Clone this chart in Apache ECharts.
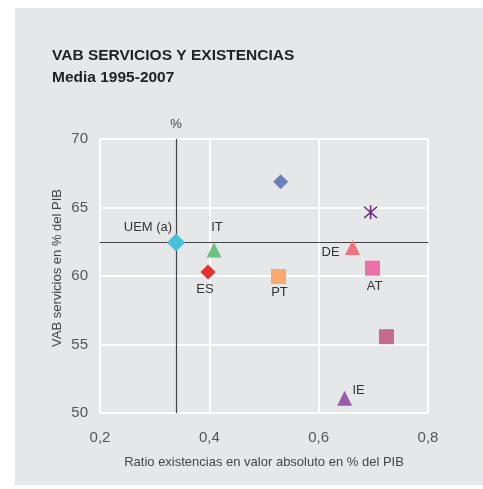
<!DOCTYPE html>
<html lang="es">
<head>
    <meta charset="UTF-8">
    <title>VAB servicios y existencias</title>
    <script src="https://cdn.jsdelivr.net/npm/echarts@6/dist/echarts.min.js"></script>
    <style>
        html, body { margin: 0; padding: 0; background: #fff; }
    </style>
</head>
<body>
<div id="chart" style="width:483px;height:489px"></div>
<script type="text/javascript">
    // datos (media 1995-2007)
    var paises = ['UEM (a)', 'IT', 'ES', 'PT', '', '', 'DE', 'AT', '', 'IE'];
    var ratioExistencias = [0.339, 0.4085, 0.3976, 0.5265, 0.5305, 0.695, 0.662, 0.6985, 0.724, 0.6475];
    var vabServicios = [62.45, 61.9, 60.3, 59.96, 66.88, 64.65, 62.08, 60.57, 55.57, 51.08];
    var ticksX = [0.2, 0.4, 0.6, 0.8];
    var ticksY = [50, 55, 60, 65, 70];

    var star = 'path://M9,0L11,0L11,20L9,20Z M1.3,2.7L2.7,1.3L18.7,17.3L17.3,18.7Z M17.3,1.3L18.7,2.7L2.7,18.7L1.3,17.3Z';

    // estilo de cada punto: simbolo, color, desplazamiento de la etiqueta
    var estilos = [
        {symbol: 'diamond', size: 18, color: '#45C0DD', off: [-28, -15]},
        {symbol: 'triangle', size: 15, color: '#6DC283', off: [3, -23]},
        {symbol: 'diamond', size: 15, color: '#E8312F', off: [-3, 18]},
        {symbol: 'rect', size: 15, color: '#F9A870', off: [1, 16]},
        {symbol: 'diamond', size: 15, color: '#6C80B8', off: [0, 0]},
        {symbol: star, size: 14, color: '#6F2C87', off: [0, 0]},
        {symbol: 'triangle', size: 15, color: '#F2727A', off: [-22, 5]},
        {symbol: 'rect', size: 15, color: '#EF6FAB', off: [2, 18]},
        {symbol: 'rect', size: 15, color: '#C46B8C', off: [0, 0]},
        {symbol: 'triangle', size: 15, color: '#9A5BAE', off: [14, -8]}
    ];

    var series = paises.map(function (p, i) {
        var e = estilos[i];
        var s = {
            type: 'scatter',
            name: p || ('s' + i),
            symbol: e.symbol,
            symbolSize: e.size,
            itemStyle: {color: e.color, opacity: 1},
            label: {
                show: p !== '',
                position: 'inside',
                offset: e.off,
                formatter: p,
                color: '#333',
                fontSize: 13,
                fontFamily: 'Liberation Sans'
            },
            data: [[ratioExistencias[i], vabServicios[i]]],
            z: 5
        };
        if (i === 0) {
            s.markLine = {
                silent: true,
                symbol: 'none',
                label: {show: false},
                lineStyle: {color: '#444', width: 1.2, type: 'solid'},
                data: [{xAxis: ratioExistencias[0]}, {yAxis: vabServicios[0]}],
                z: 3
            };
        }
        return s;
    });

    var myChart = echarts.init(document.getElementById('chart'));
    var option = {
        animation: false,
        backgroundColor: '#fff',
        textStyle: {fontFamily: 'Liberation Sans'},
        title: {
            text: 'VAB SERVICIOS Y EXISTENCIAS\nMedia 1995-2007',
            left: 52,
            top: 45,
            padding: 0,
            textStyle: {fontSize: 15.5, fontWeight: 'bold', color: '#222', lineHeight: 22, fontFamily: 'Liberation Sans'}
        },
        graphic: [
            {type: 'rect', z: -10, shape: {x: 15, y: 8, width: 468, height: 477}, style: {fill: '#E6E7E8'}},
            {type: 'text', x: 176, y: 124, style: {text: '%', fontSize: 13, fill: '#444', align: 'center', verticalAlign: 'middle', fontFamily: 'Liberation Sans'}},
            {type: 'text', x: 57, y: 268, rotation: Math.PI / 2,
                style: {text: 'VAB servicios en % del PIB', fontSize: 13, fill: '#444', align: 'center', verticalAlign: 'middle', fontFamily: 'Liberation Sans'}}
        ],
        grid: {left: 100, right: 55, top: 139, bottom: 76},
        xAxis: {
            type: 'value',
            min: ticksX[0],
            max: ticksX[ticksX.length - 1],
            interval: 0.2,
            name: 'Ratio existencias en valor absoluto en % del PIB',
            nameLocation: 'middle',
            nameGap: 43,
            nameTextStyle: {fontSize: 13, color: '#444'},
            axisLine: {show: false},
            axisTick: {show: false},
            axisLabel: {
                fontSize: 15, color: '#555', margin: 17,
                formatter: function (v) { return v.toFixed(1).replace('.', ','); }
            },
            splitLine: {show: true, lineStyle: {color: '#fff', width: 2}}
        },
        yAxis: {
            type: 'value',
            min: ticksY[0],
            max: ticksY[ticksY.length - 1],
            interval: 5,
            axisLine: {show: false},
            axisTick: {show: false},
            axisLabel: {fontSize: 15, color: '#555', margin: 12},
            splitLine: {show: true, lineStyle: {color: '#fff', width: 2}}
        },
        series: series
    };
    myChart.setOption(option);
</script>
</body>
</html>
